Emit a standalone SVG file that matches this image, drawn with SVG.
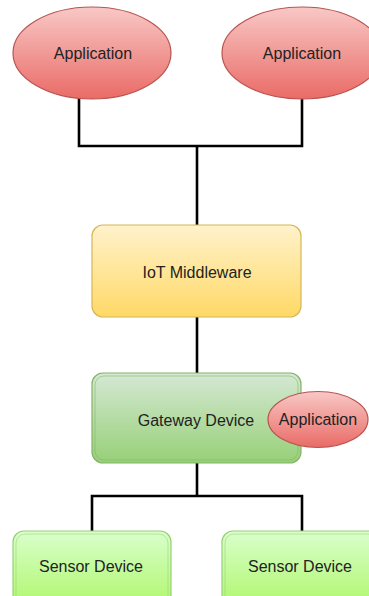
<svg xmlns="http://www.w3.org/2000/svg" width="369" height="596" viewBox="0 0 369 596">
<defs>
<linearGradient id="gRed" x1="0" y1="0" x2="0" y2="1"><stop offset="0" stop-color="#f8c8c6"/><stop offset="1" stop-color="#ea6b66"/></linearGradient>
<linearGradient id="gYel" x1="0" y1="0" x2="0" y2="1"><stop offset="0" stop-color="#fff2cc"/><stop offset="1" stop-color="#ffd966"/></linearGradient>
<linearGradient id="gGw" x1="0" y1="0" x2="0" y2="1"><stop offset="0" stop-color="#d5e8d4"/><stop offset="1" stop-color="#97d077"/></linearGradient>
<linearGradient id="gSen" x1="0" y1="0" x2="0" y2="1"><stop offset="0" stop-color="#d9ffcc"/><stop offset="1" stop-color="#a8f55a"/></linearGradient>
</defs>
<style>
.lbl{font-family:"Liberation Sans",Arial,sans-serif;font-size:16px;fill:#222;text-anchor:middle;dominant-baseline:central}
.app{fill:url(#gRed);stroke:#b85450;stroke-width:1.2}
.conn{fill:none;stroke:#000;stroke-width:2.6}
</style>
<rect width="369" height="596" fill="#fff"/>
<g id="connectors">
<polyline class="conn" points="79,97 79,146 302,146 302,97"/>
<line class="conn" x1="197" y1="146" x2="197" y2="226"/>
<line class="conn" x1="197" y1="316" x2="197" y2="374"/>
<polyline class="conn" points="197,462 197,496"/>
<polyline class="conn" points="92,531 92,496 302,496 302,531"/>
</g>
<g id="app1">
<ellipse class="app" cx="92" cy="53" rx="79" ry="46"/>
<text class="lbl" x="93" y="53">Application</text>
</g>
<g id="app2">
<ellipse class="app" cx="302" cy="53" rx="80" ry="46"/>
<text class="lbl" x="302" y="53">Application</text>
</g>
<g id="middleware">
<rect x="92" y="225" width="209" height="92" rx="11" fill="url(#gYel)" stroke="#d6b656" stroke-width="1.2"/>
<text class="lbl" x="197" y="272">IoT Middleware</text>
</g>
<g id="gateway">
<rect x="92" y="373" width="209" height="90" rx="11" fill="url(#gGw)" stroke="#82b366" stroke-width="1.2"/>
<rect x="95" y="376" width="203" height="84" rx="9" fill="none" stroke="#82b366" stroke-width="0.8" opacity="0.7"/>
<text class="lbl" x="196" y="420">Gateway Device</text>
</g>
<g id="app3">
<ellipse class="app" cx="318" cy="419.5" rx="50" ry="28"/>
<text class="lbl" x="318" y="419.5">Application</text>
</g>
<g id="sensor1">
<rect x="13" y="531" width="158" height="90" rx="11" fill="url(#gSen)" stroke="#97d077" stroke-width="1.2"/>
<rect x="16" y="534" width="152" height="84" rx="9" fill="none" stroke="#97d077" stroke-width="0.8" opacity="0.7"/>
<text class="lbl" x="91" y="566">Sensor Device</text>
</g>
<g id="sensor2">
<rect x="222" y="531" width="158" height="90" rx="11" fill="url(#gSen)" stroke="#97d077" stroke-width="1.2"/>
<rect x="225" y="534" width="152" height="84" rx="9" fill="none" stroke="#97d077" stroke-width="0.8" opacity="0.7"/>
<text class="lbl" x="300" y="566">Sensor Device</text>
</g>
</svg>
